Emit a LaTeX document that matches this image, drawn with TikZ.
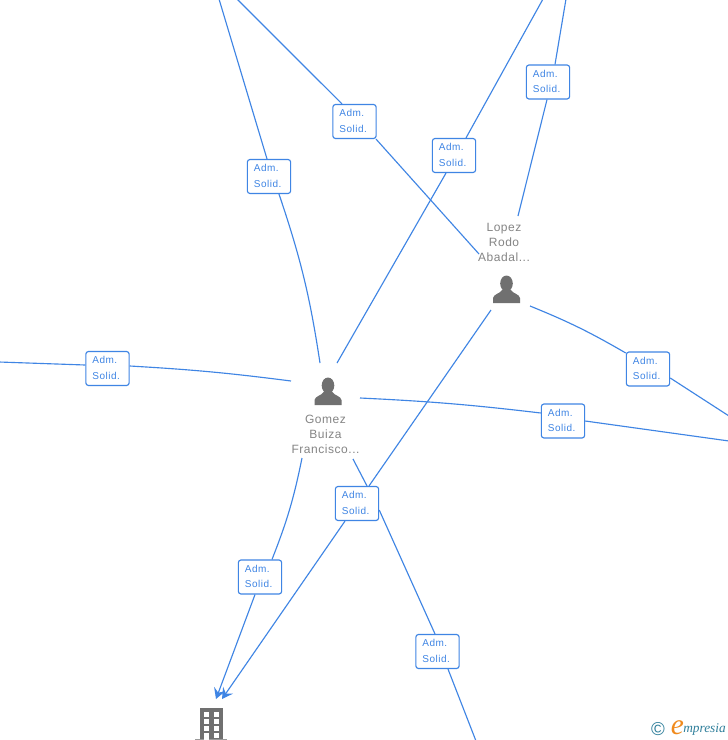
\documentclass[tikz,border=0pt]{standalone}
\usepackage{fontspec}
\setmainfont{Liberation Sans}
\newfontfamily\logofont{Liberation Serif}
\newfontfamily\rolefont[LetterSpace=5]{Liberation Sans}
\newfontfamily\namefont[LetterSpace=4.5]{Liberation Sans}
\usetikzlibrary{arrows.meta}
\definecolor{linkblue}{HTML}{3F85E4}
\definecolor{icongray}{HTML}{707070}
\definecolor{namegray}{HTML}{858585}
\definecolor{logoteal}{HTML}{2F7F9B}
\definecolor{logoorange}{HTML}{F08A1D}
\tikzset{
  px/.style={x=0.75pt,y=-0.75pt},
  rolebox/.style={draw=linkblue,fill=white,rounded corners=2pt,line width=0.85pt,minimum width=32.5pt,minimum height=25.5pt,inner sep=0pt,align=left,text=linkblue,font=\rolefont\fontsize{7.5}{11.3}\selectfont},
  linkline/.style={draw=linkblue,line width=0.85pt},
  tiplink/.style={linkline,-{Stealth[length=8pt,width=9pt,inset=3pt]}},
  persontext/.style={align=center,text=namegray,inner sep=0pt,font=\namefont\fontsize{9}{11.3}\selectfont},
  iconfill/.style={fill=icongray,draw=none},
}
\newcommand{\personicon}[2]{%
  \fill[iconfill] (#1,#2-6.5) ellipse[x radius=6.3,y radius=8];
  \fill[iconfill] (#1-13.5,#2+13) -- (#1-13.5,#2+8) .. controls (#1-13,#2+4) and (#1-6,#2+3.5) .. (#1-4.5,#2)
    -- (#1+4.5,#2) .. controls (#1+6,#2+3.5) and (#1+13,#2+4) .. (#1+13.5,#2+8) -- (#1+13.5,#2+13) -- cycle;
}
\newcommand{\roletext}{\raisebox{-0.9pt}{\begin{tabular}{@{}l@{}}Adm.\\Solid.\end{tabular}}\hspace*{2pt}}
\begin{document}
\begin{tikzpicture}[px]
\useasboundingbox[fill=white] (0,0) rectangle (728,740);
% role labels
\node[rolebox] (r1) at (269,176.5) {\roletext};
\node[rolebox] (r2) at (354.5,121.5) {\roletext};
\node[rolebox] (r3) at (454,155.5) {\roletext};
\node[rolebox] (r4) at (548,82) {\roletext};
\node[rolebox] (r5) at (648,369) {\roletext};
\node[rolebox] (r6) at (563,421) {\roletext};
\node[rolebox] (r7) at (107.5,368.5) {\roletext};
\node[rolebox] (r8) at (357,503.5) {\roletext};
\node[rolebox] (r9) at (260,577) {\roletext};
\node[rolebox] (r10) at (437.5,651.5) {\roletext};
% person names
\node[persontext] (gomez) at (325.5,434) {Gomez\\Buiza\\Francisco...};
\node[persontext] (lopez) at (504,242) {Lopez\\Rodo\\Abadal...};
% connector ends
\coordinate (t1) at (219,-1);
\coordinate (t2) at (237,-1);
\coordinate (t3) at (543,-1);
\coordinate (t4) at (566,-1);
\coordinate (e5) at (729,416);
\coordinate (e6) at (729,441);
\coordinate (w7) at (-1,362);
\coordinate (s10) at (476,741);
\coordinate (g1) at (320,363);
\coordinate (g3) at (337,363);
\coordinate (g7) at (291,381);
\coordinate (g6) at (360,398);
\coordinate (g9) at (302,458);
\coordinate (g8) at (353,459);
\coordinate (l2) at (479,254);
\coordinate (l4) at (518,216);
\coordinate (l5) at (530,306);
\coordinate (l8) at (491,310);
\coordinate (b8) at (222,699);
\coordinate (b9) at (216,699);
% connectors
\draw[linkline] (t1) -- ([shift={(-2,0)}]r1.north);
\draw[linkline] ([shift={(10,0)}]r1.south) to[bend left=5] (g1);
\draw[linkline] (t2) -- ([shift={(-12.5,0)}]r2.north);
\draw[linkline] ([shift={(21.5,0)}]r2.south) -- (l2);
\draw[linkline] (t3) -- ([shift={(12,0)}]r3.north);
\draw[linkline] ([shift={(-8,0)}]r3.south) -- (g3);
\draw[linkline] (t4) -- ([shift={(7,0)}]r4.north);
\draw[linkline] ([shift={(-1,0)}]r4.south) -- (l4);
\draw[linkline] (l5) to[bend left=4] ([shift={(0,-16)}]r5.west);
\draw[linkline] ([shift={(0,9)}]r5.east) -- (e5);
\draw[linkline] (g6) to[bend left=2] ([shift={(0,-8)}]r6.west);
\draw[linkline] (r6.east) -- (e6);
\draw[linkline] (w7) -- ([shift={(0,-3.5)}]r7.west);
\draw[linkline] ([shift={(0,-2.5)}]r7.east) to[bend left=2] (g7);
\draw[linkline] (l8) -- ([shift={(12,0)}]r8.north);
\draw[tiplink] ([shift={(-12,0)}]r8.south) -- (b8);
\draw[linkline] (g9) to[bend left=5] ([shift={(12,0)}]r9.north);
\draw[tiplink] ([shift={(-5,0)}]r9.south) -- (b9);
\draw[linkline] (g8) -- ([shift={(10,0)}]r8.north);
\draw[linkline] ([shift={(0,6.5)}]r8.east) -- ([shift={(-2.5,0)}]r10.north);
\draw[linkline] ([shift={(10.5,0)}]r10.south) -- (s10);
% icons
\personicon{328}{392}
\personicon{506.5}{290}
% building
\fill[iconfill] (200,708) rectangle (223,740);
\fill[icongray!70] (195,739) rectangle (227,740);
\foreach \yy in {712,719,726,733}{
  \fill[white] (204,\yy) rectangle (208.5,\yy+4.5);
  \fill[white] (213.5,\yy) rectangle (218.5,\yy+4.5);
}
\fill[white] (204,733) rectangle (208.5,740);
% logo
\node[inner sep=0pt,text=logoteal,font=\fontsize{14}{14}\selectfont] (copy) at (658,729) {©};
\node[inner sep=0pt,text=logoorange,font=\logofont\itshape\fontsize{22}{22}\selectfont] (elogo) at (677.5,727.5) {e};
\node[inner sep=0pt,text=logoteal,anchor=west,font=\logofont\itshape\fontsize{10}{10}\selectfont] (mpresia) at (683,729.5) {mpresia};
\end{tikzpicture}
\end{document}
